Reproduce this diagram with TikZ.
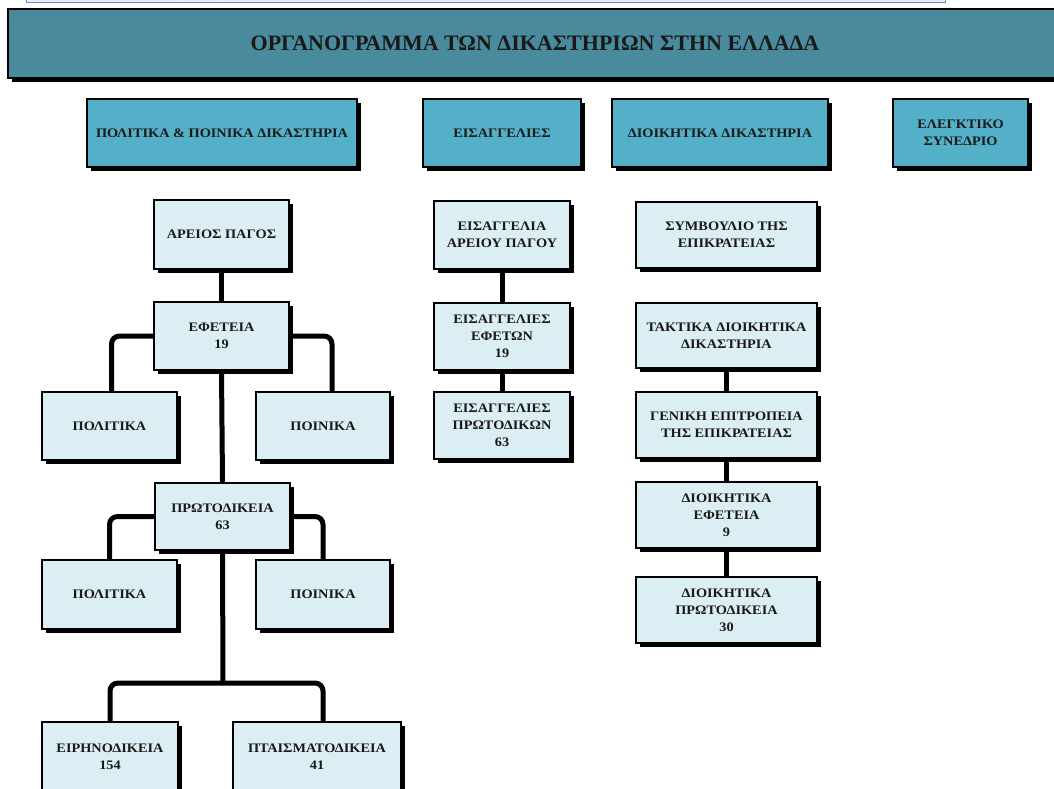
\documentclass[tikz,border=0pt]{standalone}
\usepackage{fontspec}
\setmainfont{Liberation Serif}
\newfontfamily\boxfont{Liberation Serif}[FakeStretch=1.1]
\usetikzlibrary{shadows,backgrounds}
\definecolor{titlefill}{RGB}{73,138,156}
\definecolor{catfill}{RGB}{84,176,200}
\definecolor{lightfill}{RGB}{219,238,244}
\definecolor{barblue}{RGB}{100,140,215}
\definecolor{barfill}{RGB}{232,240,252}
\tikzset{
  base/.style={draw=black, line width=1.6pt, rectangle, inner sep=2pt, align=center,
    font=\boxfont\bfseries\fontsize{13}{17}\selectfont, text=black!90,
    drop shadow={shadow xshift=4pt, shadow yshift=-4pt, fill=black, opacity=1}},
  lbox/.style={base, fill=lightfill},
  cbox/.style={base, fill=catfill},
  titlebox/.style={base, fill=titlefill, font=\bfseries\fontsize{22}{26}\selectfont},
  conn/.style={line width=5pt, rounded corners=8pt},
}
\begin{document}
\begin{tikzpicture}[x=1pt,y=-1pt]
\useasboundingbox (0,0) rectangle (1054,789);
% top bar remnant
\draw[barblue, fill=barfill, line width=0.8pt] (26,-3) rectangle (945,2);
\foreach \xx in {176,218,366} \draw[white, line width=0.8pt] (\xx,-1) -- (\xx,1.5);
% title
\node[titlebox, minimum width=1054pt, minimum height=69pt] (title) at (535,43.5) {ΟΡΓΑΝΟΓΡΑΜΜΑ ΤΩΝ ΔΙΚΑΣΤΗΡΙΩΝ ΣΤΗΝ ΕΛΛΑΔΑ};
% categories
\node[cbox, minimum width=270pt, minimum height=68pt] (c1) at (222,133) {ΠΟΛΙΤΙΚΑ \& ΠΟΙΝΙΚΑ ΔΙΚΑΣΤΗΡΙΑ};
\node[cbox, minimum width=158pt, minimum height=68pt] (c2) at (502,133) {ΕΙΣΑΓΓΕΛΙΕΣ};
\node[cbox, minimum width=216pt, minimum height=68pt] (c3) at (720,133) {ΔΙΟΙΚΗΤΙΚΑ ΔΙΚΑΣΤΗΡΙΑ};
\node[cbox, minimum width=135pt, minimum height=68pt] (c4) at (960.5,133) {ΕΛΕΓΚΤΙΚΟ\\ΣΥΝΕΔΡΙΟ};
% left column
\coordinate (bus) at (223,683);
\node[lbox, minimum width=135pt, minimum height=69pt] (ap) at (221.5,234.5) {ΑΡΕΙΟΣ ΠΑΓΟΣ};
\node[lbox, minimum width=135pt, minimum height=68pt] (ef) at (221.5,336) {ΕΦΕΤΕΙΑ\\19};
\node[lbox, minimum width=135pt, minimum height=68pt] (pol1) at (109.5,426) {ΠΟΛΙΤΙΚΑ};
\node[lbox, minimum width=134pt, minimum height=68pt] (poi1) at (323,426) {ΠΟΙΝΙΚΑ};
\node[lbox, minimum width=135pt, minimum height=67pt] (pr) at (222.5,516.5) {ΠΡΩΤΟΔΙΚΕΙΑ\\63};
\node[lbox, minimum width=135pt, minimum height=69pt] (pol2) at (109.5,594.5) {ΠΟΛΙΤΙΚΑ};
\node[lbox, minimum width=134pt, minimum height=69pt] (poi2) at (323,594.5) {ΠΟΙΝΙΚΑ};
\node[lbox, minimum width=136pt, minimum height=70pt] (eir) at (110,757) {ΕΙΡΗΝΟΔΙΚΕΙΑ\\154};
\node[lbox, minimum width=168pt, minimum height=70pt] (pta) at (317,757) {ΠΤΑΙΣΜΑΤΟΔΙΚΕΙΑ\\41};
% middle column
\node[lbox, minimum width=136pt, minimum height=68pt] (ea) at (502,235) {ΕΙΣΑΓΓΕΛΙΑ\\ΑΡΕΙΟΥ ΠΑΓΟΥ};
\node[lbox, minimum width=136pt, minimum height=67pt] (ee) at (502,336.5) {ΕΙΣΑΓΓΕΛΙΕΣ\\ΕΦΕΤΩΝ\\19};
\node[lbox, minimum width=136pt, minimum height=67pt] (ep) at (502,425.5) {ΕΙΣΑΓΓΕΛΙΕΣ\\ΠΡΩΤΟΔΙΚΩΝ\\63};
% right column
\node[lbox, minimum width=181pt, minimum height=66pt] (sy) at (726.5,235) {ΣΥΜΒΟΥΛΙΟ ΤΗΣ\\ΕΠΙΚΡΑΤΕΙΑΣ};
\node[lbox, minimum width=181pt, minimum height=65pt] (ta) at (726.5,335.5) {ΤΑΚΤΙΚΑ ΔΙΟΙΚΗΤΙΚΑ\\ΔΙΚΑΣΤΗΡΙΑ};
\node[lbox, minimum width=181pt, minimum height=66pt] (ge) at (726.5,425) {ΓΕΝΙΚΗ ΕΠΙΤΡΟΠΕΙΑ\\ΤΗΣ ΕΠΙΚΡΑΤΕΙΑΣ};
\node[lbox, minimum width=181pt, minimum height=66pt] (de) at (726.5,515) {ΔΙΟΙΚΗΤΙΚΑ\\ΕΦΕΤΕΙΑ\\9};
\node[lbox, minimum width=181pt, minimum height=66pt] (dp) at (726.5,610) {ΔΙΟΙΚΗΤΙΚΑ\\ΠΡΩΤΟΔΙΚΕΙΑ\\30};
% connectors behind the boxes
\begin{scope}[on background layer]
\draw[conn] (ap.south) -- (ef.north);
\draw[conn] (ef.west) -| ([xshift=2pt]pol1.north);
\draw[conn] (ef.east) -| ([xshift=9pt]poi1.north);
\draw[conn] (ef.south) -- (pr.north);
\draw[conn] (pr.west) -| (pol2.north);
\draw[conn] (pr.east) -| (poi2.north);
\draw[conn] (pr.south) -- (bus);
\draw[conn] (eir.north) |- (bus) -| ([xshift=6pt]pta.north);
\draw[conn] (ea.south) -- (ee.north);
\draw[conn] (ee.south) -- (ep.north);
\draw[conn] (ta.south) -- (ge.north);
\draw[conn] (ge.south) -- (de.north);
\draw[conn] (de.south) -- (dp.north);
\end{scope}
\end{tikzpicture}
\end{document}
